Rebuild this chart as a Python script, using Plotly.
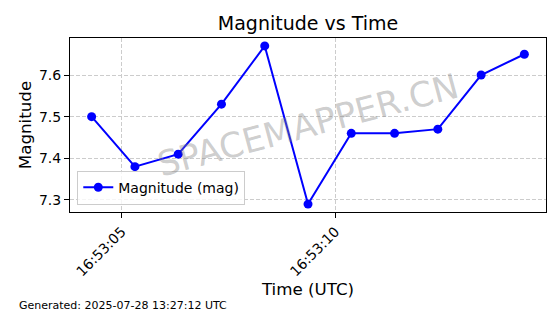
import plotly.graph_objects as go

# ---- data ----
times = [
    "2025-07-28 16:53:04.295", "2025-07-28 16:53:05.308", "2025-07-28 16:53:06.320",
    "2025-07-28 16:53:07.333", "2025-07-28 16:53:08.345", "2025-07-28 16:53:09.358",
    "2025-07-28 16:53:10.370", "2025-07-28 16:53:11.383", "2025-07-28 16:53:12.395",
    "2025-07-28 16:53:13.408", "2025-07-28 16:53:14.420",
]
magnitudes = [7.50, 7.38, 7.41, 7.53, 7.67, 7.29, 7.46, 7.46, 7.47, 7.60, 7.65]
x_ticks = ["2025-07-28 16:53:05", "2025-07-28 16:53:10"]
x_tick_labels = ["16:53:05", "16:53:10"]
y_ticks = [7.3, 7.4, 7.5, 7.6]
series_name = "Magnitude (mag)"
title_text = "Magnitude vs Time"
x_title = "Time (UTC)"
y_title = "Magnitude"
footer_text = "Generated: 2025-07-28 13:27:12 UTC"
watermark_text = "SPACEMAPPER.CN"

FONT = "DejaVu Sans"
W, H = 560, 314
ML, MR, MT, MB = 70, 14, 38, 102

fig = go.Figure()
fig.add_trace(go.Scatter(
    x=times, y=magnitudes, mode="lines+markers", name=series_name,
    line=dict(color="#0000ff", width=2),
    marker=dict(color="#0000ff", size=9),
))

grid = dict(showgrid=True, gridcolor="#cccccc", griddash="4px,2px", gridwidth=1,
            showline=True, linecolor="black", linewidth=1, mirror=True,
            ticks="outside", ticklen=5, tickcolor="black", tickwidth=1,
            zeroline=False, automargin=False,
            tickfont=dict(family=FONT, size=14, color="black"))

fig.update_layout(
    width=W, height=H,
    margin=dict(l=ML, r=MR, t=MT, b=MB),
    paper_bgcolor="white", plot_bgcolor="white",
    font=dict(family=FONT, color="black"),
    title=dict(text=title_text, x=(ML + (W - ML - MR) / 2) / W, xanchor="center",
               y=1 - 23.5 / H, yanchor="middle",
               font=dict(family=FONT, size=19, color="black")),
    xaxis=dict(type="date", range=["2025-07-28 16:53:03.789", "2025-07-28 16:53:14.926"],
               tickvals=x_ticks, ticktext=x_tick_labels, tickangle=-45,
               title=dict(text=x_title, standoff=4,
                          font=dict(family=FONT, size=16.7, color="black")),
               **grid),
    yaxis=dict(range=[7.271, 7.689], tickvals=y_ticks,
               ticktext=[f"{v:.1f}" for v in y_ticks],
               title=dict(text=y_title, standoff=3,
                          font=dict(family=FONT, size=16.7, color="black")),
               **grid),
    legend=dict(x=0.0153, y=0.042, xanchor="left", yanchor="bottom",
                bgcolor="rgba(255,255,255,0.8)", bordercolor="#cccccc", borderwidth=1,
                font=dict(family=FONT, size=14, color="black")),
    showlegend=True,
)

fig.add_annotation(text=watermark_text, xref="paper", yref="paper", x=0.5, y=0.5,
                   showarrow=False, textangle=-15,
                   font=dict(family=FONT, size=34.5, color="rgba(128,128,128,0.4)"))

pw = W - ML - MR
ph = H - MT - MB
fig.add_annotation(text=footer_text, xref="paper", yref="paper",
                   x=(17 - ML) / pw, y=(H - MB - 305) / ph, xanchor="left", yanchor="middle",
                   showarrow=False, font=dict(family=FONT, size=11, color="black"))

fig.write_html("out.html")
